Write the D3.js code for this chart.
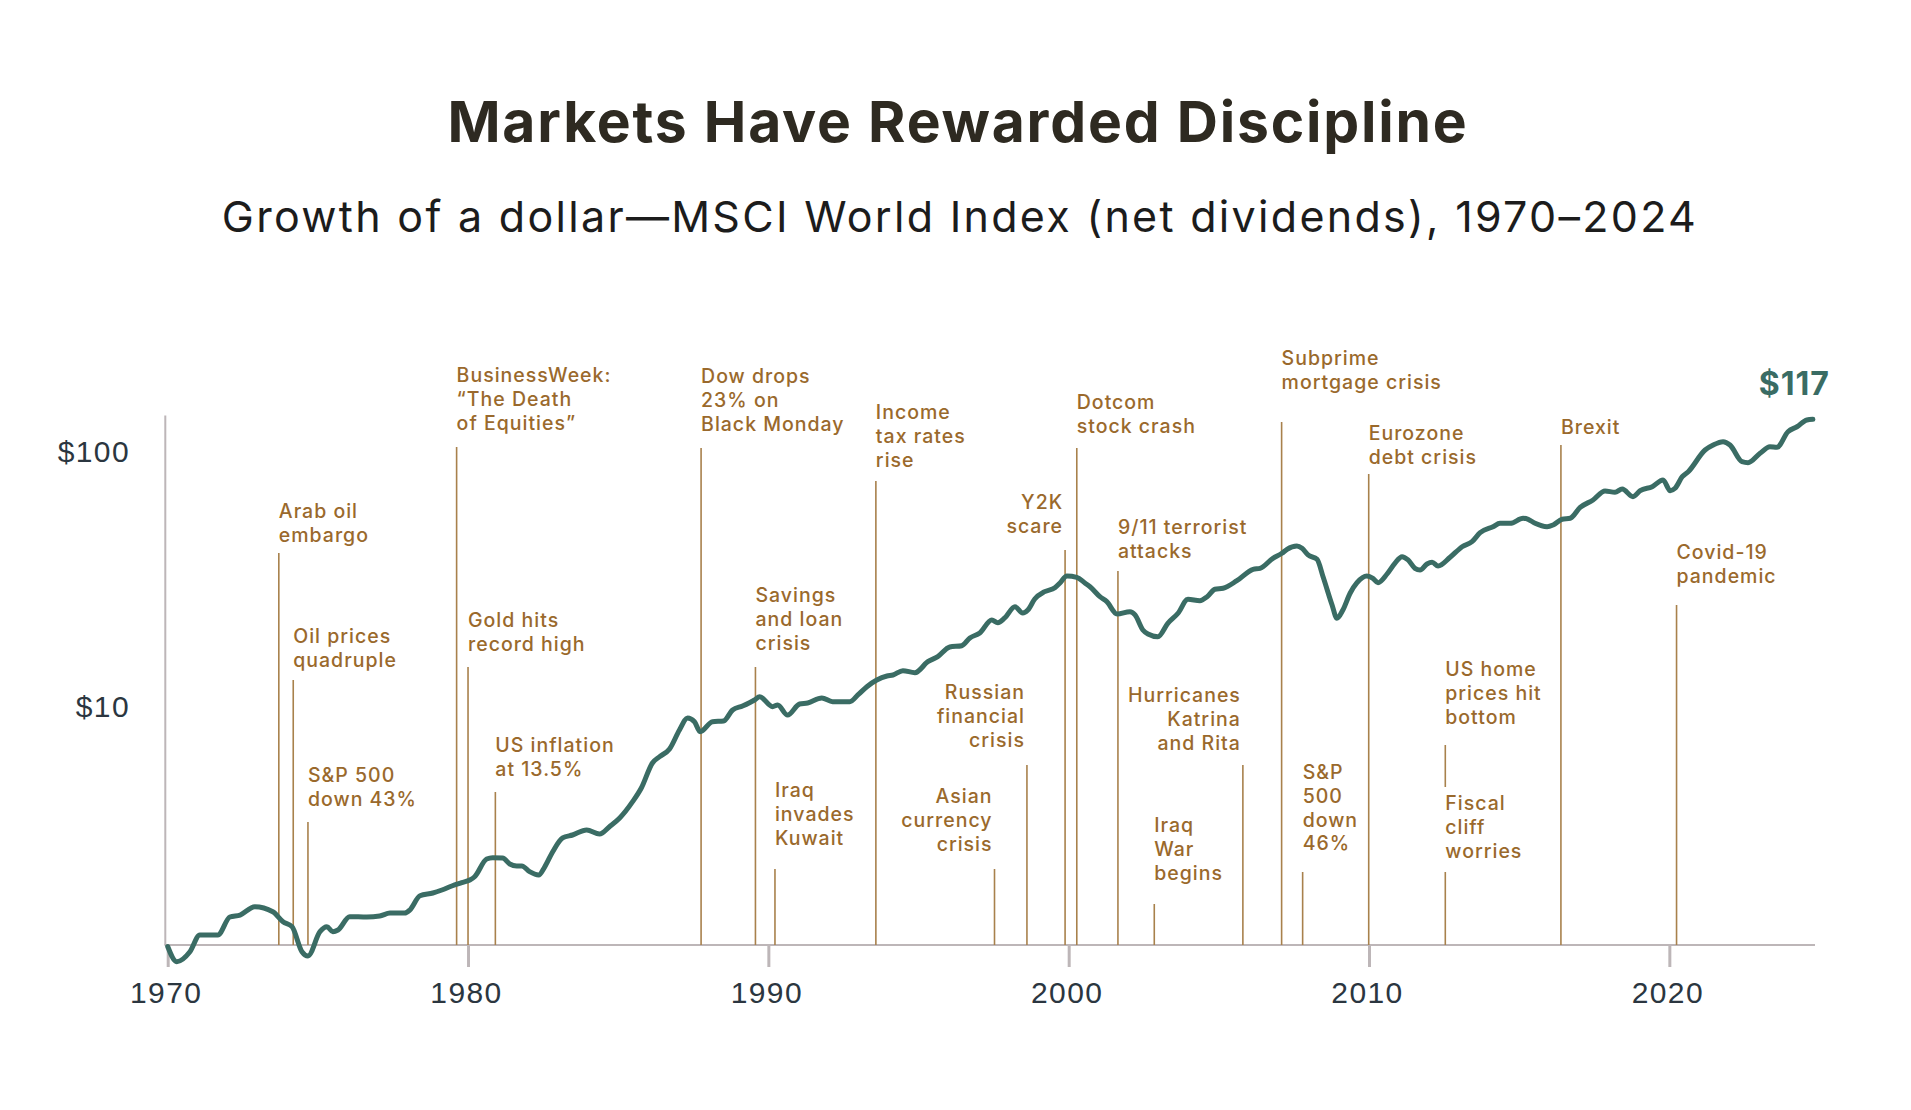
<!DOCTYPE html>
<html lang="en">
<head>
    <meta charset="UTF-8">
    <title>Markets Have Rewarded Discipline</title>
    <script src="https://d3js.org/d3.v7.min.js"></script>
    <style>
        body {
            margin: 0;
            background: #fff;
            font-family: Inter, "Open Sans", sans-serif;
        }

        .title {
            font-weight: 700;
            font-size: 57px;
            letter-spacing: 1.8px;
            fill: #2e2a21;
        }

        .subtitle {
            font-weight: 400;
            font-size: 43px;
            letter-spacing: 2.3px;
            fill: #1c1c1c;
        }

        .axis text {
            font-size: 30px;
            letter-spacing: 1.4px;
            fill: #2b3640;
        }

        .axis-line {
            stroke: #bdb6b8;
            stroke-width: 2;
        }

        .event-line {
            stroke: #a8814c;
            stroke-width: 1.6;
        }

        .event-label {
            font-size: 19.5px;
            font-weight: 500;
            letter-spacing: 1px;
            fill: #9a692c;
        }

        .growth {
            fill: none;
            stroke: #3a6c64;
            stroke-width: 5;
            stroke-linejoin: round;
            stroke-linecap: round;
        }

        .end-label {
            font-size: 32px;
            font-weight: 700;
            letter-spacing: 1px;
            fill: #3a6c64;
        }
    </style>
</head>
<body>
<svg id="chart"></svg>
<script>
    // growth of $1: [year, value]
    const growth = [
        [1970.00, 1.00], [1970.30, 0.872], [1970.74, 0.954], [1971.07, 1.11], [1971.41, 1.11],
        [1971.67, 1.11], [1972.07, 1.305], [1972.41, 1.329], [1972.90, 1.432], [1973.50, 1.369],
        [1973.84, 1.251], [1974.14, 1.196], [1974.47, 0.954], [1974.67, 0.918], [1975.07, 1.143],
        [1975.30, 1.196], [1975.50, 1.143], [1975.67, 1.161], [1976.06, 1.309], [1976.63, 1.305],
        [1977.06, 1.317], [1977.40, 1.353], [1977.89, 1.353], [1978.06, 1.39], [1978.40, 1.582],
        [1978.83, 1.621], [1979.13, 1.666], [1979.46, 1.727], [1979.79, 1.78], [1980.06, 1.824],
        [1980.22, 1.878], [1980.62, 2.204], [1980.82, 2.23], [1981.15, 2.224], [1981.39, 2.107],
        [1981.62, 2.07], [1981.79, 2.07], [1982.05, 1.966], [1982.35, 1.908], [1982.55, 2.05],
        [1982.82, 2.355], [1983.15, 2.666], [1983.48, 2.738], [1983.95, 2.864], [1984.38, 2.763],
        [1984.71, 2.951], [1985.05, 3.192], [1985.48, 3.70], [1985.77, 4.186], [1986.14, 5.247],
        [1986.38, 5.555], [1986.71, 5.955], [1987.04, 7.07], [1987.31, 7.88], [1987.54, 7.62],
        [1987.73, 6.96], [1988.14, 7.62], [1988.51, 7.67], [1988.81, 8.47], [1989.14, 8.78],
        [1989.54, 9.27], [1989.71, 9.55], [1990.14, 8.73], [1990.31, 8.86], [1990.64, 8.09],
        [1991.04, 8.94], [1991.31, 9.02], [1991.78, 9.44], [1992.14, 9.13], [1992.71, 9.13],
        [1992.98, 9.70], [1993.28, 10.45], [1993.61, 11.10], [1993.95, 11.51], [1994.15, 11.62],
        [1994.48, 12.08], [1994.88, 11.86], [1995.31, 13.10], [1995.64, 13.71], [1996.04, 14.96],
        [1996.44, 15.14], [1996.71, 16.23], [1997.04, 16.98], [1997.44, 19.10], [1997.64, 18.64],
        [1997.87, 19.45], [1998.21, 21.53], [1998.47, 20.34], [1998.64, 20.9], [1998.87, 23.08],
        [1999.20, 24.66], [1999.54, 25.56], [1999.71, 26.68], [1999.94, 28.41], [2000.27, 28.08],
        [2000.54, 26.68], [2000.71, 25.79], [2001.04, 23.57], [2001.27, 22.53], [2001.61, 20.16],
        [2002.04, 20.58], [2002.21, 19.98], [2002.47, 17.45], [2002.64, 16.83], [2002.97, 16.42],
        [2003.30, 18.53], [2003.64, 20.29], [2003.97, 23.02], [2004.37, 22.73], [2004.61, 23.57],
        [2004.87, 25.2], [2005.14, 25.43], [2005.60, 27.23], [2006.14, 30.19], [2006.37, 30.46],
        [2006.80, 33.34], [2007.10, 34.88], [2007.27, 36.16], [2007.60, 37.25], [2007.77, 36.49],
        [2007.97, 34.36], [2008.27, 33.04], [2008.47, 28.23], [2008.77, 21.87], [2008.93, 19.4],
        [2009.13, 20.9], [2009.37, 24.31], [2009.60, 26.74], [2009.93, 28.41], [2010.13, 27.83],
        [2010.30, 26.74], [2010.60, 28.93], [2010.86, 31.87], [2011.10, 33.83], [2011.30, 32.84],
        [2011.53, 30.46], [2011.70, 30.0], [2011.93, 31.67], [2012.10, 32.17], [2012.30, 31.1],
        [2012.70, 33.65], [2013.10, 37.02], [2013.43, 38.73], [2013.70, 42.02], [2014.13, 44.36],
        [2014.36, 45.73], [2014.70, 45.73], [2015.13, 47.86], [2015.30, 47.42], [2015.53, 45.73],
        [2015.93, 44.36], [2016.13, 45.05], [2016.43, 47.42], [2016.70, 47.86], [2017.03, 52.76],
        [2017.46, 56.45], [2017.86, 61.24], [2018.19, 60.52], [2018.43, 62.35], [2018.79, 58.17],
        [2019.03, 61.4], [2019.43, 63.65], [2019.79, 67.62], [2020.03, 61.4], [2020.19, 62.75],
        [2020.43, 69.66], [2020.63, 72.9], [2021.19, 88.67], [2021.46, 92.76], [2021.79, 95.58],
        [2022.02, 92.76], [2022.42, 79.79], [2022.62, 79.07], [2023.02, 86.08], [2023.35, 91.37],
        [2023.58, 90.87], [2023.95, 104.6], [2024.25, 109.4], [2024.58, 116.3], [2024.78, 117.0]
    ];

    const xTicks = [1970, 1980, 1990, 2000, 2010, 2020];
    const yTicks = [10, 100];
    const endLabel = "$117";

    const eventDates = [1973.70, 1974.18, 1974.67, 1979.62, 1980.00, 1980.91, 1987.76, 1989.57,
        1990.22, 1993.58, 1997.53, 1998.61, 1999.88, 2000.27, 2001.64, 2002.85, 2005.80, 2007.09,
        2007.79, 2009.99, 2012.54, 2012.54, 2016.39, 2020.24];

    const eventLabels = [
        ["Arab oil", "embargo"],
        ["Oil prices", "quadruple"],
        ["S&P 500", "down 43%"],
        ["BusinessWeek:", "\u201cThe Death", "of Equities\u201d"],
        ["Gold hits", "record high"],
        ["US inflation", "at 13.5%"],
        ["Dow drops", "23% on", "Black Monday"],
        ["Savings", "and loan", "crisis"],
        ["Iraq", "invades", "Kuwait"],
        ["Income", "tax rates", "rise"],
        ["Asian", "currency", "crisis"],
        ["Russian", "financial", "crisis"],
        ["Y2K", "scare"],
        ["Dotcom", "stock crash"],
        ["9/11 terrorist", "attacks"],
        ["Iraq", "War", "begins"],
        ["Hurricanes", "Katrina", "and Rita"],
        ["Subprime", "mortgage crisis"],
        ["S&P", "500", "down", "46%"],
        ["Eurozone", "debt crisis"],
        ["US home", "prices hit", "bottom"],
        ["Fiscal", "cliff", "worries"],
        ["Brexit"],
        ["Covid-19", "pandemic"]
    ];

    // label placement (pixels): first baseline, top of the rule, optional bottom, alignment
    const eventLayout = [
        { textY: 518, top: 553 },
        { textY: 643, top: 680 },
        { textY: 782, top: 822 },
        { textY: 382, top: 447 },
        { textY: 627, top: 667 },
        { textY: 752, top: 792 },
        { textY: 383, top: 448 },
        { textY: 602, top: 667 },
        { textY: 797, top: 869 },
        { textY: 419, top: 481 },
        { textY: 803, top: 869, align: "end" },
        { textY: 699, top: 765, align: "end" },
        { textY: 509, top: 550, align: "end" },
        { textY: 409, top: 448 },
        { textY: 534, top: 571 },
        { textY: 832, top: 904 },
        { textY: 702, top: 765, align: "end" },
        { textY: 365, top: 422 },
        { textY: 779, top: 872 },
        { textY: 440, top: 474 },
        { textY: 676, top: 745, bottom: 787 },
        { textY: 810, top: 872 },
        { textY: 434, top: 445 },
        { textY: 559, top: 605 }
    ];

    const width = 1911;
    const height = 1110;
    const lineGap = 23.8;

    const svg = d3.select("#chart")
        .attr("width", width)
        .attr("height", height);

    const x = d3.scaleLinear().domain([1970, 2024.85]).range([167.7, 1815]);
    const y = d3.scaleLog().domain([1, 100]).range([946.5, 436.7]);

    const base = y(1) - 1.5;

    // titles
    svg.append("text")
        .attr("class", "title")
        .attr("x", 958)
        .attr("y", 142)
        .attr("text-anchor", "middle")
        .text("Markets Have Rewarded Discipline");

    svg.append("text")
        .attr("class", "subtitle")
        .attr("x", 960)
        .attr("y", 232)
        .attr("text-anchor", "middle")
        .text("Growth of a dollar\u2014MSCI World Index (net dividends), 1970\u20132024");

    // axes
    svg.append("line")
        .attr("class", "axis-line")
        .attr("x1", 165.3).attr("x2", 165.3)
        .attr("y1", y(121)).attr("y2", base);

    svg.append("line")
        .attr("class", "axis-line")
        .attr("x1", 164.5).attr("x2", x.range()[1])
        .attr("y1", base).attr("y2", base);

    const xAxis = svg.append("g")
        .attr("class", "axis")
        .attr("transform", `translate(0,${base})`)
        .call(d3.axisBottom(x)
            .tickValues(xTicks)
            .tickFormat(d3.format("d"))
            .tickSize(22)
            .tickSizeOuter(0)
            .tickPadding(15));
    xAxis.select(".domain").remove();
    xAxis.selectAll(".tick line")
        .attr("stroke", "#bdb6b8")
        .attr("stroke-width", 3);
    xAxis.selectAll(".tick text").attr("dx", -2);

    const yAxis = svg.append("g")
        .attr("class", "axis")
        .attr("transform", "translate(166,0)")
        .call(d3.axisLeft(y)
            .tickValues(yTicks)
            .tickFormat(d => "$" + d)
            .tickSize(0)
            .tickPadding(36));
    yAxis.select(".domain").remove();
    yAxis.selectAll(".tick text").attr("dy", "0.84em");

    // event rules and labels
    const events = eventDates.map((d, i) => ({
        date: d,
        lines: eventLabels[i],
        ...eventLayout[i]
    }));

    svg.selectAll(".event-line")
        .data(events)
        .join("line")
        .attr("class", "event-line")
        .attr("x1", d => x(d.date))
        .attr("x2", d => x(d.date))
        .attr("y1", d => d.top)
        .attr("y2", d => d.bottom || base);

    const labels = svg.selectAll(".event-label")
        .data(events)
        .join("text")
        .attr("class", "event-label")
        .attr("text-anchor", d => d.align || "start")
        .attr("x", d => d.align === "end" ? x(d.date) - 2 : x(d.date))
        .attr("y", d => d.textY);

    labels.selectAll("tspan")
        .data(d => d.lines.map((t, j) => ({ t, j, d })))
        .join("tspan")
        .attr("x", o => o.d.align === "end" ? x(o.d.date) - 2 : x(o.d.date))
        .attr("y", o => o.d.textY + o.j * lineGap)
        .text(o => o.t);

    // growth line
    const line = d3.line()
        .x(d => x(d[0]))
        .y(d => y(d[1]))
        .curve(d3.curveMonotoneX);

    svg.append("path")
        .datum(growth)
        .attr("class", "growth")
        .attr("d", line);

    const last = growth[growth.length - 1];
    svg.append("text")
        .attr("class", "end-label")
        .attr("x", x(last[0]) + 17)
        .attr("y", y(last[1]) - 24)
        .attr("text-anchor", "end")
        .text(endLabel);
</script>
</body>
</html>
